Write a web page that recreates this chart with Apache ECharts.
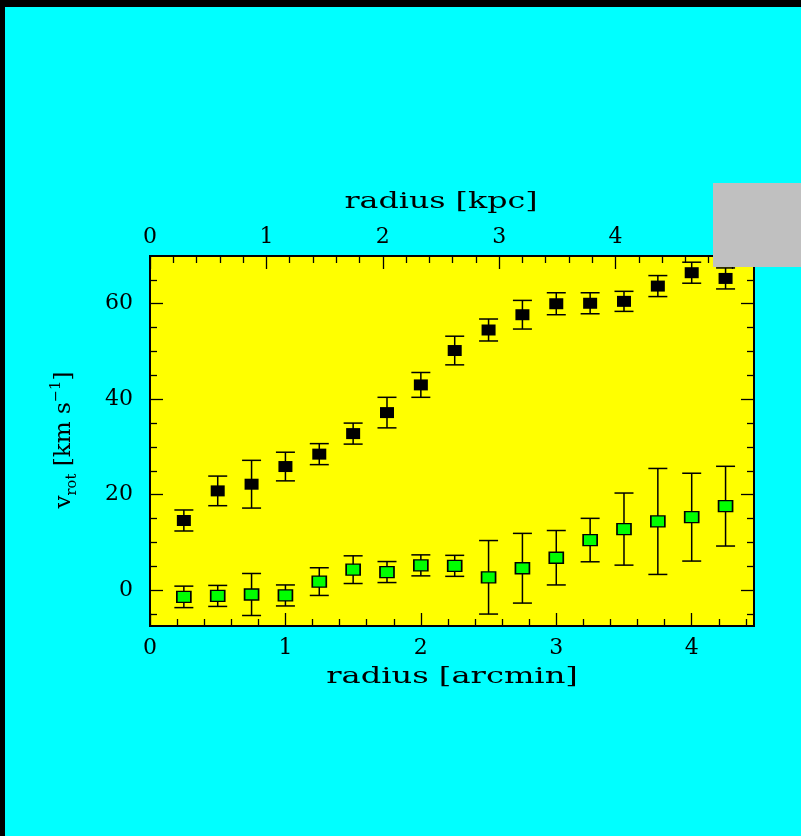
<!DOCTYPE html>
<html>
<head>
<meta charset="utf-8">
<title>Rotation curve</title>
<script src="https://cdn.jsdelivr.net/npm/echarts@6/dist/echarts.min.js"></script>
<style>
  html, body { margin: 0; padding: 0; background: #000; }
  #chart { width: 801px; height: 836px; }
</style>
</head>
<body>
<div id="chart"></div>
<script>
// Radii of the measured points (arcmin)
const radius = [0.25, 0.5, 0.75, 1.0, 1.25, 1.5, 1.75, 2.0, 2.25, 2.5, 2.75, 3.0, 3.25, 3.5, 3.75, 4.0, 4.25];
// Rotation velocity and its uncertainty (km/s)
const vRot = [14.6, 20.8, 22.2, 25.9, 28.5, 32.8, 37.2, 43.0, 50.2, 54.5, 57.7, 60.0, 60.1, 60.5, 63.7, 66.5, 65.3];
const vRotErr = [2.2, 3.1, 5.0, 3.0, 2.2, 2.2, 3.2, 2.6, 3.0, 2.3, 3.0, 2.3, 2.2, 2.1, 2.2, 2.2, 2.2];
// Second velocity component and its uncertainty (km/s)
const vRad = [-1.4, -1.2, -0.9, -1.1, 1.8, 4.3, 3.8, 5.2, 5.1, 2.7, 4.6, 6.8, 10.5, 12.8, 14.4, 15.3, 17.6];
const vRadErr = [2.25, 2.2, 4.4, 2.2, 2.9, 2.9, 2.2, 2.2, 2.2, 7.7, 7.3, 5.7, 4.55, 7.55, 11.1, 9.2, 8.35];

// Axis ranges and tick values
const arcminMax = 4.46;
const kpcPerArcmin = 1.1636;            // distance of 4 Mpc
const kpcMax = arcminMax * kpcPerArcmin;
const yMin = -7.5, yMax = 70;
const arcminMajor = [0, 1, 2, 3, 4];
const arcminMinor = [0.2, 0.4, 0.6, 0.8, 1.2, 1.4, 1.6, 1.8, 2.2, 2.4, 2.6, 2.8, 3.2, 3.4, 3.6, 3.8, 4.2, 4.4];
const kpcLabels = [0, 1, 2, 3, 4];
const kpcMajor = [0, 1, 2, 3, 4, 5];
const kpcMinor = [0.2, 0.4, 0.6, 0.8, 1.2, 1.4, 1.6, 1.8, 2.2, 2.4, 2.6, 2.8, 3.2, 3.4, 3.6, 3.8, 4.2, 4.4, 4.6, 4.8];
const vMajor = [0, 20, 40, 60];
const vMinor = [-5, 5, 10, 15, 25, 30, 35, 45, 50, 55, 65];

const FONT = 'DejaVu Serif';
const tickStyle = { color: '#000', width: 1.3 };

function pointsWithErrors(vals, errs) {
  return radius.map((r, i) => [r, vals[i] - errs[i], vals[i] + errs[i]]);
}
function points(vals) {
  return radius.map((r, i) => [r, vals[i]]);
}

function tickAxis(pos, min, max, ticks, len, labels, labelMargin) {
  return {
    type: 'value', position: pos, min: min, max: max,
    axisLine: { show: false, onZero: false },
    splitLine: { show: false },
    axisTick: { show: true, inside: true, length: len, lineStyle: tickStyle, customValues: ticks },
    axisLabel: labels ? {
      show: true, customValues: labels, margin: labelMargin,
      color: '#000', fontFamily: FONT, fontSize: 22
    } : { show: false }
  };
}

function errorBars(params, api) {
  const x = api.value(0), lo = api.value(1), hi = api.value(2);
  const a = api.coord([x, lo]);
  const b = api.coord([x, hi]);
  const half = 9.5;
  const style = { stroke: '#000', lineWidth: 1.5, fill: null };
  return {
    type: 'group',
    children: [
      { type: 'line', shape: { x1: a[0], y1: a[1], x2: b[0], y2: b[1] }, style: style },
      { type: 'line', shape: { x1: a[0] - half, y1: a[1], x2: a[0] + half, y2: a[1] }, style: style },
      { type: 'line', shape: { x1: b[0] - half, y1: b[1], x2: b[0] + half, y2: b[1] }, style: style }
    ]
  };
}

const chart = echarts.init(document.getElementById('chart'), null, { renderer: 'canvas' });

chart.setOption({
  backgroundColor: '#00ffff',
  animation: false,
  grid: {
    left: 150, top: 256, width: 604, height: 370,
    show: true, backgroundColor: '#ffff00', borderColor: '#000', borderWidth: 2
  },
  xAxis: [
    tickAxis('bottom', 0, arcminMax, arcminMajor, 13, arcminMajor, 11),
    tickAxis('bottom', 0, arcminMax, arcminMinor, 7, null),
    tickAxis('top', 0, kpcMax, kpcMajor, 13, kpcLabels, 8),
    tickAxis('top', 0, kpcMax, kpcMinor, 7, null)
  ],
  yAxis: [
    tickAxis('left', yMin, yMax, vMajor, 13, vMajor, 17),
    tickAxis('left', yMin, yMax, vMinor, 7, null),
    tickAxis('right', yMin, yMax, vMajor, 13, null),
    tickAxis('right', yMin, yMax, vMinor, 7, null)
  ],
  series: [
    {
      name: 'vRot errors', type: 'custom', xAxisIndex: 0, yAxisIndex: 0,
      renderItem: errorBars, encode: { x: 0, y: [1, 2] },
      data: pointsWithErrors(vRot, vRotErr), z: 2
    },
    {
      name: 'vRad errors', type: 'custom', xAxisIndex: 0, yAxisIndex: 0,
      renderItem: errorBars, encode: { x: 0, y: [1, 2] },
      data: pointsWithErrors(vRad, vRadErr), z: 2
    },
    {
      name: 'vRot', type: 'scatter', xAxisIndex: 0, yAxisIndex: 0,
      symbol: 'rect', symbolSize: [14, 11],
      itemStyle: { color: '#000', opacity: 1 },
      data: points(vRot), z: 3
    },
    {
      name: 'vRad', type: 'scatter', xAxisIndex: 0, yAxisIndex: 0,
      symbol: 'rect', symbolSize: [14, 11],
      itemStyle: { color: '#00ff00', borderColor: '#000', borderWidth: 1.5, opacity: 1 },
      data: points(vRad), z: 3
    }
  ],
  graphic: [
    // black frame strips along the top and left edges
    { type: 'rect', left: 0, top: 0, shape: { width: 801, height: 7 }, style: { fill: '#000' }, z: 100 },
    { type: 'rect', left: 0, top: 0, shape: { width: 5, height: 836 }, style: { fill: '#000' }, z: 100 },
    // grey panel over the upper right corner
    { type: 'rect', x: 713, y: 183, shape: { width: 88, height: 84 }, style: { fill: '#c0c0c0' }, z: 100 },
    // axis titles
    {
      type: 'text', x: 441, y: 202, scaleX: 1.44, z: 50,
      style: { text: 'radius [kpc]', fontFamily: FONT, fontSize: 22, fill: '#000', align: 'center', verticalAlign: 'middle' }
    },
    {
      type: 'text', x: 452, y: 677, scaleX: 1.46, z: 50,
      style: { text: 'radius [arcmin]', fontFamily: FONT, fontSize: 22, fill: '#000', align: 'center', verticalAlign: 'middle' }
    },
    {
      type: 'text', x: 64, y: 440, rotation: Math.PI / 2, scaleX: 1.05, z: 50,
      style: {
        text: '{m|v}{sub|rot}{m| [km s}{sup|−1}{m|]}',
        align: 'center', verticalAlign: 'middle',
        rich: {
          m: { fontFamily: FONT, fontSize: 22, fill: '#000', lineHeight: 30, verticalAlign: 'middle' },
          sub: { fontFamily: FONT, fontSize: 14, fill: '#000', lineHeight: 30, verticalAlign: 'bottom' },
          sup: { fontFamily: FONT, fontSize: 14, fill: '#000', lineHeight: 30, verticalAlign: 'top' }
        }
      }
    }
  ]
});
</script>
</body>
</html>
